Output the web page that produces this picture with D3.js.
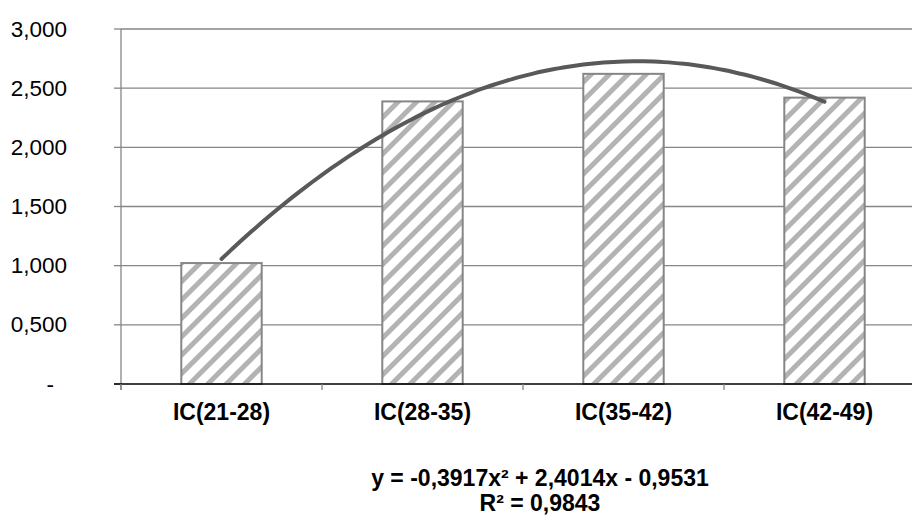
<!DOCTYPE html>
<html>
<head>
<meta charset="utf-8">
<script src="https://cdn.jsdelivr.net/npm/d3@7"></script>
<style>
  html, body { margin: 0; padding: 0; background: #fff; }
  svg { display: block; font-family: "Liberation Sans", Arial, sans-serif; }
</style>
</head>
<body>
<div id="chart"></div>
<script>
// categories and bar values
const categories = ["IC(21-28)", "IC(28-35)", "IC(35-42)", "IC(42-49)"];
const values = [1.022, 2.388, 2.621, 2.420];

// y axis ticks and their labels
const yTicks = [0, 0.5, 1, 1.5, 2, 2.5, 3];
const yTickLabels = ["-", "0,500", "1,000", "1,500", "2,000", "2,500", "3,000"];

// polynomial trendline, as printed on the chart: a*x^2 + b*x + c
const trendCoef = [-0.3917, 2.4014, -0.9531];
const trendLabel = ["y = -0,3917x² + 2,4014x - 0,9531", "R² = 0,9843"];

const width = 912, height = 516;
const plot = { left: 121, right: 925, top: 29, bottom: 384 };

const svg = d3.select("#chart")
    .append("svg")
    .attr("width", width)
    .attr("height", height);

// hatch pattern for the bars (wide upward diagonal)
const defs = svg.append("defs");
const pat = defs.append("pattern")
    .attr("id", "hatch")
    .attr("patternUnits", "userSpaceOnUse")
    .attr("width", 13)
    .attr("height", 13)
    .attr("patternTransform", "rotate(45)");
pat.append("rect").attr("width", 13).attr("height", 13).attr("fill", "#fff");
pat.append("rect").attr("width", 5).attr("height", 13).attr("fill", "#b3b3b3");

const x = d3.scaleBand()
    .domain(categories)
    .range([plot.left, plot.right])
    .paddingInner(0.6)
    .paddingOuter(0.3);

// continuous x for the trendline: category i sits at i+1
const xc = d3.scaleLinear()
    .domain([0.5, categories.length + 0.5])
    .range([plot.left, plot.right]);

const y = d3.scaleLinear()
    .domain([0, 3])
    .range([plot.bottom, plot.top]);

// gridlines
svg.append("g")
    .selectAll("line")
    .data(yTicks.filter(d => d > 0))
    .join("line")
    .attr("x1", plot.left)
    .attr("x2", width)
    .attr("y1", d => y(d))
    .attr("y2", d => y(d))
    .attr("stroke", "#868686")
    .attr("stroke-width", 1.3);

// y ticks
svg.append("g")
    .selectAll("line")
    .data(yTicks)
    .join("line")
    .attr("x1", plot.left - 7)
    .attr("x2", plot.left)
    .attr("y1", d => y(d))
    .attr("y2", d => y(d))
    .attr("stroke", "#868686")
    .attr("stroke-width", 1.3);

// vertical axis line
svg.append("line")
    .attr("x1", plot.left).attr("x2", plot.left)
    .attr("y1", y(3)).attr("y2", plot.bottom + 6)
    .attr("stroke", "#868686")
    .attr("stroke-width", 1.3);

// y labels
svg.append("g")
    .selectAll("text")
    .data(yTicks)
    .join("text")
    .attr("x", (d, i) => yTickLabels[i] === "-" ? 54 : 67)
    .attr("y", d => y(d) + 7.5)
    .attr("text-anchor", "end")
    .attr("font-size", 22.5)
    .attr("fill", "#000")
    .text((d, i) => yTickLabels[i]);

// bars
svg.append("g")
    .selectAll("rect")
    .data(values)
    .join("rect")
    .attr("x", (d, i) => x(categories[i]))
    .attr("y", d => y(d))
    .attr("width", x.bandwidth())
    .attr("height", d => y(0) - y(d))
    .attr("fill", "url(#hatch)")
    .attr("stroke", "#868686")
    .attr("stroke-width", 2);

// category axis (baseline + ticks between categories)
svg.append("line")
    .attr("x1", plot.left - 7).attr("x2", width)
    .attr("y1", plot.bottom).attr("y2", plot.bottom)
    .attr("stroke", "#000")
    .attr("stroke-width", 1.3);

svg.append("g")
    .selectAll("line")
    .data(d3.range(categories.length + 1))
    .join("line")
    .attr("x1", i => xc(i + 0.5))
    .attr("x2", i => xc(i + 0.5))
    .attr("y1", plot.bottom)
    .attr("y2", plot.bottom + 6)
    .attr("stroke", "#868686")
    .attr("stroke-width", 1.3);

// category labels
svg.append("g")
    .selectAll("text")
    .data(categories)
    .join("text")
    .attr("x", d => x(d) + x.bandwidth() / 2)
    .attr("y", 420)
    .attr("text-anchor", "middle")
    .attr("font-size", 23)
    .attr("font-weight", "bold")
    .attr("fill", "#000")
    .text(d => d);

// trendline
const poly = t => trendCoef[0] * t * t + trendCoef[1] * t + trendCoef[2];
const trendPts = d3.range(1, categories.length + 0.001, 0.05).map(t => [t, poly(t)]);
svg.append("path")
    .datum(trendPts)
    .attr("fill", "none")
    .attr("stroke", "#595959")
    .attr("stroke-width", 4)
    .attr("stroke-linecap", "round")
    .attr("d", d3.line().x(d => xc(d[0])).y(d => y(d[1])).curve(d3.curveBasis));

// trendline equation
svg.append("g")
    .selectAll("text")
    .data(trendLabel)
    .join("text")
    .attr("x", 540)
    .attr("y", (d, i) => 486 + i * 25)
    .attr("text-anchor", "middle")
    .attr("font-size", 23)
    .attr("font-weight", "bold")
    .attr("fill", "#000")
    .text(d => d);
</script>
</body>
</html>
